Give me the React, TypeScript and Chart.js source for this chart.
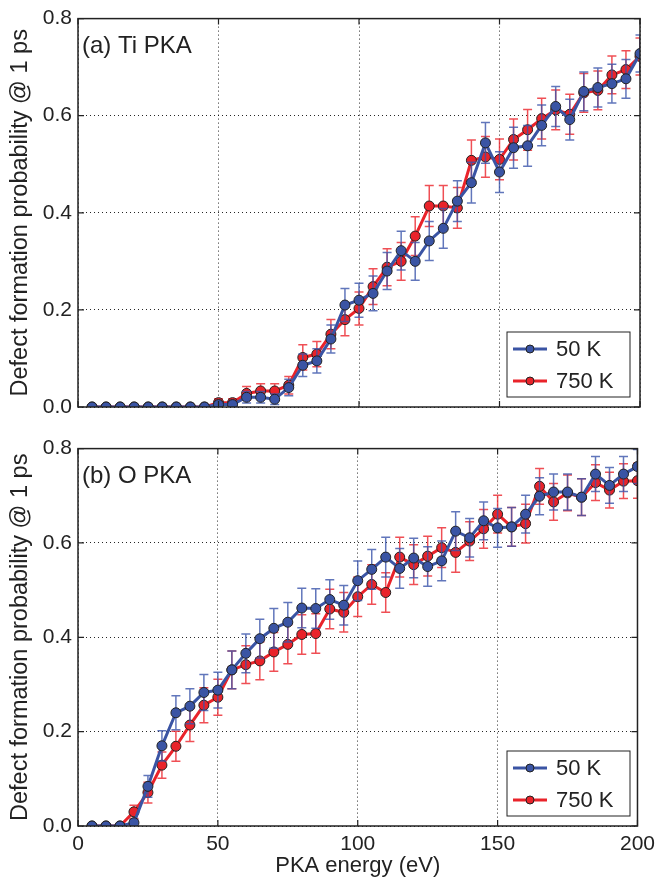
import React, { useEffect, useRef } from "react";
import { Chart, registerables } from "chart.js";
Chart.register(...registerables);

// ---------- data ----------
const energies = [5, 10, 15, 20, 25, 30, 35, 40, 45, 50, 55, 60, 65, 70, 75, 80, 85, 90, 95, 100,
  105, 110, 115, 120, 125, 130, 135, 140, 145, 150, 155, 160, 165, 170, 175, 180, 185, 190, 195, 200];

const xTicks = [0, 50, 100, 150, 200];
const yTicks = [0, 0.2, 0.4, 0.6, 0.8];
const seriesLabels = ["50 K", "750 K"];

// (a) Ti PKA
const tiLow = [0, 0, 0, 0, 0, 0, 0, 0, 0, 0.005, 0.005, 0.02, 0.02, 0.016, 0.04, 0.086, 0.095, 0.14, 0.21, 0.22,
  0.234, 0.28, 0.322, 0.30, 0.342, 0.368, 0.424, 0.462, 0.544, 0.484, 0.534, 0.538, 0.58, 0.619, 0.592, 0.65, 0.658, 0.666, 0.676, 0.728];
const tiLowErr = [0, 0, 0, 0, 0, 0, 0, 0, 0, 0.006, 0.006, 0.012, 0.012, 0.011, 0.017, 0.023, 0.025, 0.029, 0.034, 0.035,
  0.036, 0.038, 0.04, 0.039, 0.04, 0.041, 0.042, 0.042, 0.042, 0.042, 0.042, 0.042, 0.042, 0.041, 0.042, 0.04, 0.04, 0.04, 0.04, 0.038];
const tiHigh = [0, 0, 0, 0, 0, 0, 0, 0, 0, 0.009, 0.009, 0.028, 0.033, 0.033, 0.045, 0.102, 0.109, 0.15, 0.18, 0.203,
  0.248, 0.288, 0.30, 0.352, 0.414, 0.414, 0.41, 0.508, 0.515, 0.51, 0.551, 0.571, 0.594, 0.612, 0.603, 0.647, 0.652, 0.684, 0.695, 0.722];
const tiHighErr = [0, 0, 0, 0, 0, 0, 0, 0, 0, 0.008, 0.008, 0.014, 0.015, 0.015, 0.018, 0.026, 0.026, 0.03, 0.033, 0.034,
  0.037, 0.038, 0.039, 0.04, 0.042, 0.042, 0.042, 0.042, 0.042, 0.042, 0.042, 0.042, 0.042, 0.041, 0.041, 0.04, 0.04, 0.039, 0.039, 0.038];

// (b) O PKA
const oLow = [0, 0, 0, 0.007, 0.084, 0.17, 0.24, 0.254, 0.283, 0.288, 0.331, 0.366, 0.397, 0.419, 0.432, 0.462, 0.461, 0.48, 0.468, 0.52,
  0.544, 0.57, 0.546, 0.568, 0.55, 0.562, 0.625, 0.611, 0.647, 0.632, 0.634, 0.661, 0.699, 0.708, 0.708, 0.697, 0.746, 0.722, 0.746, 0.762];
const oLowErr = [0, 0, 0, 0.007, 0.023, 0.032, 0.036, 0.037, 0.038, 0.038, 0.04, 0.041, 0.041, 0.042, 0.042, 0.042, 0.042, 0.042, 0.042, 0.042,
  0.042, 0.042, 0.042, 0.042, 0.042, 0.042, 0.041, 0.041, 0.04, 0.041, 0.041, 0.04, 0.039, 0.038, 0.038, 0.039, 0.037, 0.038, 0.037, 0.036];
const oHigh = [0, 0, 0, 0.03, 0.071, 0.129, 0.169, 0.214, 0.256, 0.273, 0.331, 0.342, 0.35, 0.369, 0.385, 0.406, 0.408, 0.46, 0.453, 0.486,
  0.512, 0.495, 0.57, 0.554, 0.572, 0.59, 0.58, 0.604, 0.63, 0.661, 0.634, 0.641, 0.72, 0.687, 0.706, 0.697, 0.728, 0.712, 0.731, 0.732];
const oHighErr = [0, 0, 0, 0.014, 0.022, 0.028, 0.032, 0.035, 0.037, 0.038, 0.04, 0.04, 0.04, 0.041, 0.041, 0.042, 0.042, 0.042, 0.042, 0.042,
  0.042, 0.042, 0.042, 0.042, 0.042, 0.042, 0.042, 0.041, 0.041, 0.04, 0.041, 0.041, 0.038, 0.039, 0.038, 0.039, 0.038, 0.038, 0.037, 0.037];

// ---------- style ----------
const BLUE = "#3a54a4";
const RED = "#e9232a";
const BLUE_ERR = "rgba(58,84,170,0.8)";
const RED_ERR = "rgba(235,35,42,0.8)";
const FONT = "'Liberation Sans', Arial, Helvetica, sans-serif";
const TEXT = "#222";

const errorBarPlugin = {
  id: "errorBars",
  beforeDatasetDraw(chart: any, args: any) {
    const ds = chart.data.datasets[args.index];
    if (!ds.errors) return;
    const ctx = chart.ctx;
    const ys = chart.scales.y;
    const area = chart.chartArea;
    ctx.save();
    ctx.beginPath();
    ctx.rect(area.left, area.top, area.right - area.left, area.bottom - area.top);
    ctx.clip();
    ctx.strokeStyle = ds.errColor;
    ctx.lineWidth = 1.5;
    args.meta.data.forEach((pt: any, i: number) => {
      const e = ds.errors[i];
      if (!e) return;
      const v = ds.data[i].y;
      const yt = ys.getPixelForValue(v + e);
      const yb = ys.getPixelForValue(v - e);
      const x = pt.x;
      const cw = 4.5;
      ctx.beginPath();
      ctx.moveTo(x, yt);
      ctx.lineTo(x, yb);
      ctx.moveTo(x - cw, yt);
      ctx.lineTo(x + cw, yt);
      ctx.moveTo(x - cw, yb);
      ctx.lineTo(x + cw, yb);
      ctx.stroke();
    });
    ctx.restore();
  },
};

const frameLegendPlugin = {
  id: "frameLegend",
  afterDraw(chart: any) {
    const ctx = chart.ctx;
    const a = chart.chartArea;
    const xs = chart.scales.x;
    const ys = chart.scales.y;
    ctx.save();
    // inward ticks
    ctx.strokeStyle = "#222";
    ctx.lineWidth = 1.2;
    ctx.beginPath();
    xTicks.forEach((t) => {
      const x = xs.getPixelForValue(t);
      ctx.moveTo(x, a.bottom);
      ctx.lineTo(x, a.bottom - 6);
      ctx.moveTo(x, a.top);
      ctx.lineTo(x, a.top + 6);
    });
    yTicks.forEach((t) => {
      const y = ys.getPixelForValue(t);
      ctx.moveTo(a.left, y);
      ctx.lineTo(a.left + 6, y);
      ctx.moveTo(a.right, y);
      ctx.lineTo(a.right - 6, y);
    });
    ctx.stroke();
    // frame
    ctx.lineWidth = 1.5;
    ctx.strokeRect(a.left, a.top, a.right - a.left, a.bottom - a.top);

    // panel label
    const opts = chart.options.plugins.frameLegend || {};
    ctx.fillStyle = TEXT;
    ctx.font = `24px ${FONT}`;
    ctx.textBaseline = "middle";
    ctx.textAlign = "left";
    ctx.fillText(opts.panel || "", a.left + 4, a.top + 28);

    // legend
    const bx = 507, bw = 123;
    const by = a.bottom - 75, bh = 65;
    ctx.fillStyle = "#fff";
    ctx.fillRect(bx, by, bw, bh);
    ctx.strokeStyle = "#222";
    ctx.lineWidth = 1;
    ctx.strokeRect(bx, by, bw, bh);
    const rows = [
      { label: seriesLabels[0], color: BLUE, y: a.bottom - 58 },
      { label: seriesLabels[1], color: RED, y: a.bottom - 26 },
    ];
    rows.forEach((r) => {
      ctx.strokeStyle = r.color;
      ctx.lineWidth = 3;
      ctx.beginPath();
      ctx.moveTo(513, r.y);
      ctx.lineTo(547, r.y);
      ctx.stroke();
      ctx.beginPath();
      ctx.arc(530, r.y, 4, 0, Math.PI * 2);
      ctx.fillStyle = r.color;
      ctx.fill();
      ctx.lineWidth = 1;
      ctx.strokeStyle = "#222";
      ctx.stroke();
      ctx.fillStyle = TEXT;
      ctx.font = `22px ${FONT}`;
      ctx.textAlign = "left";
      ctx.textBaseline = "middle";
      ctx.fillText(r.label, 556, r.y + 1);
    });
    ctx.restore();
  },
};

type PanelProps = {
  low: number[];
  lowErr: number[];
  high: number[];
  highErr: number[];
  panel: string;
  bottomAxis: boolean;
  top: number;
  height: number;
  areaTop: number;
  axisHeight: number;
};

function Panel(p: PanelProps) {
  const ref = useRef<HTMLCanvasElement>(null);
  useEffect(() => {
    if (!ref.current) return;
    const mk = (vals: number[]) => energies.map((e, i) => ({ x: e, y: vals[i] }));
    const chart = new Chart(ref.current, {
      type: "line",
      data: {
        datasets: [
          {
            label: seriesLabels[0],
            data: mk(p.low),
            borderColor: BLUE,
            backgroundColor: BLUE,
            pointBackgroundColor: BLUE,
            pointBorderColor: "#222",
            pointBorderWidth: 1,
            pointRadius: 5,
            borderWidth: 3,
            tension: 0,
            clip: 0,
            errors: p.lowErr,
            errColor: BLUE_ERR,
          } as any,
          {
            label: seriesLabels[1],
            data: mk(p.high),
            borderColor: RED,
            backgroundColor: RED,
            pointBackgroundColor: RED,
            pointBorderColor: "#222",
            pointBorderWidth: 1,
            pointRadius: 5,
            borderWidth: 3,
            tension: 0,
            clip: 0,
            errors: p.highErr,
            errColor: RED_ERR,
          } as any,
        ],
      },
      options: {
        animation: false,
        responsive: false,
        maintainAspectRatio: false,
        layout: { padding: { left: 0, right: 21, top: p.areaTop, bottom: 0 } },
        plugins: {
          legend: { display: false },
          tooltip: { enabled: false },
          frameLegend: { panel: p.panel },
        } as any,
        scales: {
          x: {
            type: "linear",
            min: 0,
            max: 200,
            afterBuildTicks: (s: any) => {
              s.ticks = xTicks.map((v) => ({ value: v }));
            },
            afterFit: (s: any) => {
              s.height = p.axisHeight;
            },
            grid: { color: "rgba(0,0,0,0.85)", lineWidth: 1, drawTicks: false },
            border: { display: false, dash: [1, 3] },
            ticks: {
              display: p.bottomAxis,
              padding: 6,
              color: TEXT,
              font: { family: FONT, size: 21 },
              maxRotation: 0,
              callback: (v: any) => String(v),
            },
            title: {
              display: p.bottomAxis,
              text: "PKA energy (eV)",
              color: TEXT,
              font: { family: FONT, size: 22 },
              padding: { top: 0, bottom: 0 },
            },
          },
          y: {
            type: "linear",
            min: 0,
            max: 0.8,
            afterBuildTicks: (s: any) => {
              s.ticks = yTicks.map((v) => ({ value: v }));
            },
            afterFit: (s: any) => {
              s.width = 78;
            },
            grid: { color: "rgba(0,0,0,0.85)", lineWidth: 1, drawTicks: false },
            border: { display: false, dash: [1, 3] },
            ticks: {
              padding: 6,
              color: TEXT,
              font: { family: FONT, size: 21 },
              callback: (v: any) => Number(v).toFixed(1),
            },
            title: {
              display: true,
              text: "Defect formation probability @ 1 ps",
              color: TEXT,
              font: { family: FONT, size: 23.5 },
              padding: { top: 6, bottom: 0 },
            },
          },
        },
      },
      plugins: [errorBarPlugin, frameLegendPlugin],
    });
    return () => chart.destroy();
  }, []);
  return (
    <canvas
      ref={ref}
      width={661}
      height={p.height}
      style={{ position: "absolute", left: 0, top: p.top, width: 661, height: p.height }}
    />
  );
}

export default function App() {
  return (
    <div style={{ position: "absolute", left: 0, top: 0, width: 661, height: 879, overflow: "hidden", background: "#fff" }}>
      <Panel low={tiLow} lowErr={tiLowErr} high={tiHigh} highErr={tiHighErr} panel="(a) Ti PKA"
        bottomAxis={false} top={0} height={430} areaTop={18} axisHeight={23} />
      <Panel low={oLow} lowErr={oLowErr} high={oHigh} highErr={oHighErr} panel="(b) O PKA"
        bottomAxis={true} top={430} height={449} areaTop={7} axisHeight={53} />
    </div>
  );
}
